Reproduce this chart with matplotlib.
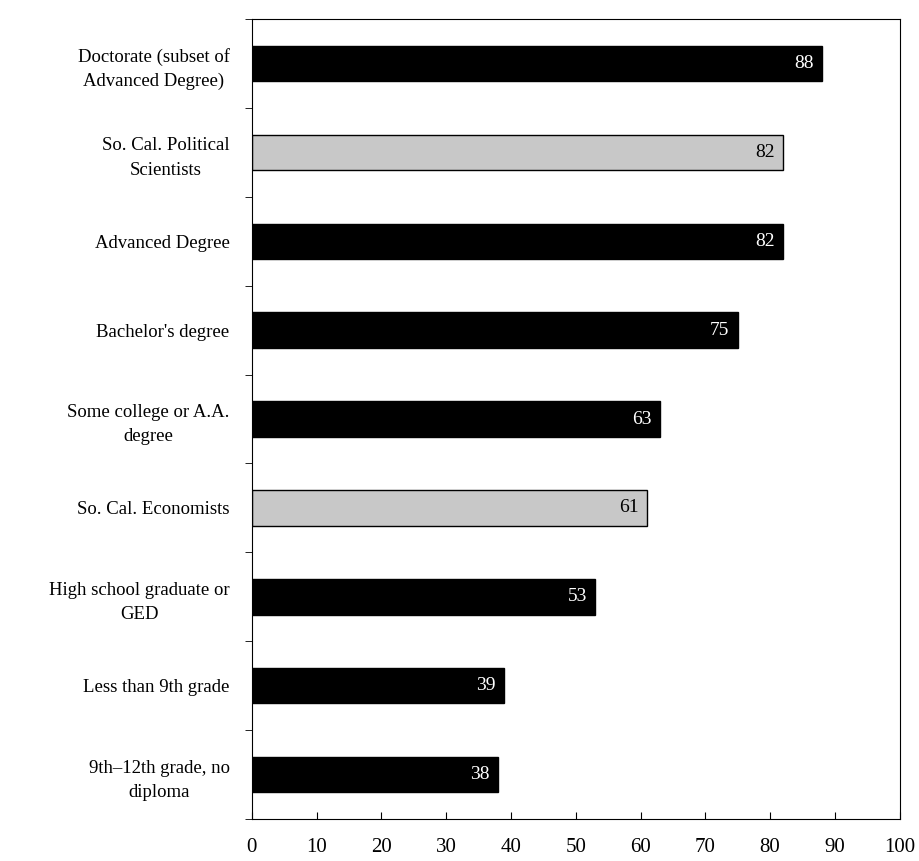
import numpy as np
import matplotlib.pyplot as plt

plt.rcParams['font.family'] = ['Liberation Serif', 'DejaVu Serif']

categories = ['Doctorate (subset of\nAdvanced Degree)',
              'So. Cal. Political\nScientists',
              'Advanced Degree',
              "Bachelor's degree",
              'Some college or A.A.\ndegree',
              'So. Cal. Economists',
              'High school graduate or\nGED',
              'Less than 9th grade',
              '9th\u201312th grade, no\ndiploma']
values = [88, 82, 82, 75, 63, 61, 53, 39, 38]
economists = [False, True, False, False, False, True, False, False, False]

y = np.arange(len(categories))
colors = ['#c8c8c8' if e else 'black' for e in economists]

fig = plt.figure(figsize=(9.19, 8.61), dpi=100)
ax = fig.add_axes([0.274, 0.0488, 0.705, 0.929])
ax.barh(y, values, height=0.4, color=colors, edgecolor='black', linewidth=1)

for yi, v, e in zip(y, values, economists):
    ax.text(v - 1.3, yi, str(v), ha='right', va='center', fontsize=14,
            color='black' if e else 'white')

ax.set_xlim(0, 100)
ax.set_ylim(len(categories) - 0.5, -0.5)
ax.set_xticks(np.arange(0, 101, 10))
ax.tick_params(axis='x', direction='in', length=5, labelsize=15, pad=14)

ax.set_yticks(y)
ax.set_yticklabels(categories, multialignment='center', fontsize=13.5, linespacing=1.55)
ax.set_yticks(np.arange(-0.5, len(categories), 1), minor=True)
ax.tick_params(axis='y', which='major', length=0, pad=16)
ax.tick_params(axis='y', which='minor', length=5, direction='out')

plt.savefig('out.png', dpi=100)
